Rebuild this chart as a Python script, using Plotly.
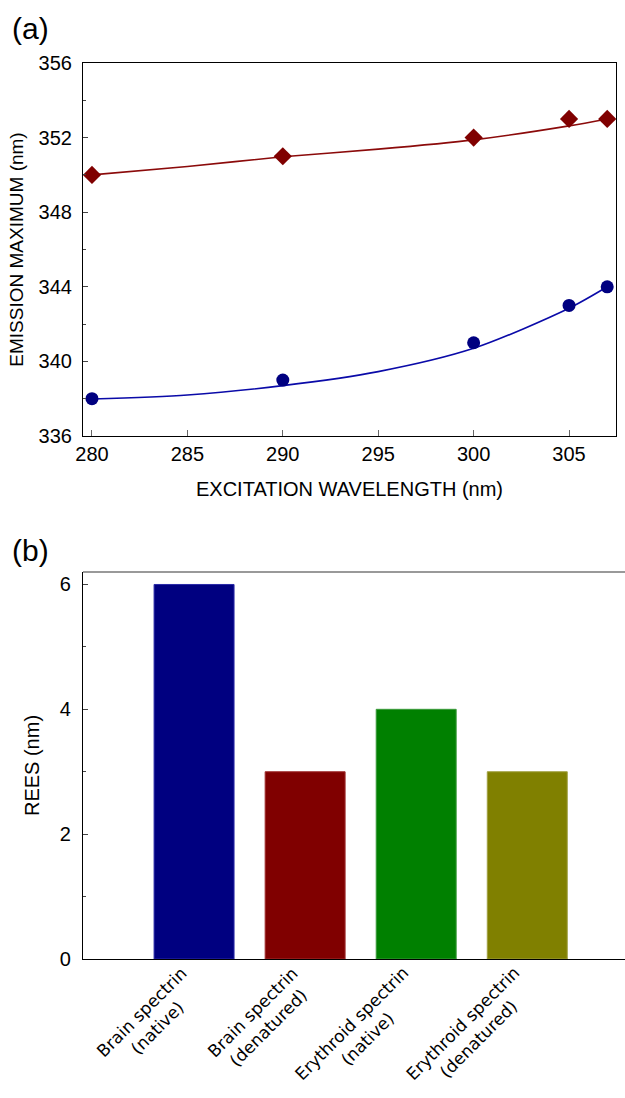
import plotly.graph_objects as go

# ---- Panel (a) data ----
exc_wl = [280, 290, 300, 305, 307]
em_red = [350, 351, 352, 353, 353]
em_blue = [338, 339, 341, 343, 344]
fit_x = [280, 285, 290, 295, 300, 305, 307]
fit_red = [350.0, 350.45, 350.97, 351.38, 351.88, 352.63, 353.0]
fit_blue = [337.98, 338.2, 338.7, 339.45, 340.7, 342.85, 344.0]

# ---- Panel (b) data ----
categories = ["Brain spectrin<br>(native)", "Brain spectrin<br>(denatured)",
              "Erythroid spectrin<br>(native)", "Erythroid spectrin<br>(denatured)"]
rees = [6, 3, 4, 3]
bar_colors = ["#000080", "#800000", "#008000", "#808000"]
bar_edges = ["#2a2aa8", "#a03030", "#3a9a3a", "#a0a040"]

FONT = "Liberation Sans, Arial, sans-serif"

fig = go.Figure()

fig.add_trace(go.Scatter(x=fit_x, y=fit_red, mode="lines", line=dict(color="#8b0a0a", width=1.6, shape="spline", smoothing=0.8),
                         xaxis="x", yaxis="y", showlegend=False, hoverinfo="skip"))
fig.add_trace(go.Scatter(x=fit_x, y=fit_blue, mode="lines", line=dict(color="#0a0aa8", width=1.6, shape="spline", smoothing=0.8),
                         xaxis="x", yaxis="y", showlegend=False, hoverinfo="skip"))
fig.add_trace(go.Scatter(x=exc_wl, y=em_red, mode="markers", marker=dict(symbol="diamond", size=14, color="#800000"),
                         xaxis="x", yaxis="y", showlegend=False, cliponaxis=False))
fig.add_trace(go.Scatter(x=exc_wl, y=em_blue, mode="markers", marker=dict(symbol="circle", size=13, color="#000080"),
                         xaxis="x", yaxis="y", showlegend=False, cliponaxis=False))

fig.add_trace(go.Bar(x=categories, y=rees, width=0.72, marker=dict(color=bar_colors, line=dict(color=bar_edges, width=1)),
                     xaxis="x2", yaxis="y2", showlegend=False))

ML, MT, MB = 83, 63, 139
PW, PH = 625 - ML, 1098 - MT - MB

fig.update_layout(
    width=625, height=1098,
    margin=dict(l=ML, r=0, t=MT, b=MB, autoexpand=False),
    paper_bgcolor="white", plot_bgcolor="white",
    font=dict(family=FONT, size=20, color="black"),
    xaxis=dict(domain=[0, (616 - ML) / PW], range=[279.53, 307.46], anchor="y", automargin=False,
               tickvals=[280, 285, 290, 295, 300, 305], ticks="inside", ticklen=6, tickcolor="#666",
               showline=True, linecolor="black", linewidth=1.2, mirror=True, showgrid=False, zeroline=False,
               tickfont=dict(size=20), ticklabelstandoff=0,
               title=dict(text="EXCITATION WAVELENGTH (nm)", font=dict(size=20), standoff=17)),
    yaxis=dict(domain=[(959 - 436) / PH, 1], range=[336, 356], anchor="x", automargin=False,
               tickvals=[336, 340, 344, 348, 352, 356], ticks="inside", ticklen=5, tickcolor="#444",
               minor=dict(tickvals=[338, 342, 346, 350, 354], ticks="inside", ticklen=3, tickcolor="#444"),
               showline=True, linecolor="black", linewidth=1.2, mirror=True, showgrid=False, zeroline=False,
               tickfont=dict(size=20), ticklabelstandoff=6,
               title=dict(text="EMISSION MAXIMUM (nm)", font=dict(size=19), standoff=9)),
    xaxis2=dict(domain=[0, 1], range=[-1, 3.88], anchor="y2", type="category", automargin=False,
                showticklabels=False, ticks="",
                showline=True, linecolor="black", linewidth=1.2, showgrid=False, zeroline=False),
    yaxis2=dict(domain=[0, (959 - 572) / PH], range=[0, 6.2], anchor="x2", automargin=False,
                tickvals=[0, 2, 4, 6], ticks="inside", ticklen=5, tickcolor="#444",
                minor=dict(tickvals=[1, 3, 5], ticks="inside", ticklen=3, tickcolor="#444"),
                showline=True, linecolor="black", linewidth=1.2, showgrid=False, zeroline=False,
                tickfont=dict(size=20), ticklabelstandoff=7,
                title=dict(text="REES (nm)", font=dict(size=20), standoff=14)),
)

# top frame line of panel (b)
fig.add_shape(type="line", xref="x2 domain", yref="y2 domain", x0=0, x1=1, y0=1, y1=1,
              line=dict(color="#777", width=1.5))

# category labels (rotated, centered lines)
for c in categories:
    fig.add_annotation(x=c, y=0, xref="x2", yref="y2 domain", text=c, showarrow=False,
                       textangle=-45, xanchor="right", yanchor="top", align="center",
                       xshift=15, yshift=-1,
                       font=dict(family="DejaVu Sans", size=17, color="black"))

fig.add_annotation(x=(30 - ML) / PW, y=1 + (MT - 29) / PH, xref="paper", yref="paper", text="(a)", showarrow=False,
                   font=dict(size=30), xanchor="center", yanchor="middle")
fig.add_annotation(x=(30 - ML) / PW, y=(959 - 550) / PH, xref="paper", yref="paper", text="(b)", showarrow=False,
                   font=dict(size=30), xanchor="center", yanchor="middle")

fig.write_html("out.html")
